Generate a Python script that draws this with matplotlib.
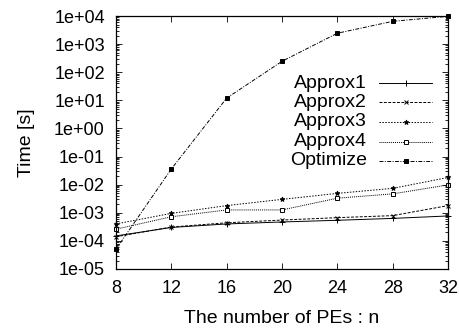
import matplotlib
matplotlib.use('Agg')
import matplotlib.pyplot as plt
from matplotlib.ticker import FixedLocator, FuncFormatter, LogLocator, NullFormatter
from matplotlib.lines import Line2D

plt.rcParams['font.family'] = ['Liberation Sans', 'DejaVu Sans']

# Data
pes = [8, 12, 16, 20, 24, 28, 32]
approx1 = [1.5e-4, 3.0e-4, 4.0e-4, 4.7e-4, 5.4e-4, 6.3e-4, 7.7e-4]
approx2 = [1.4e-4, 3.1e-4, 4.4e-4, 5.5e-4, 6.7e-4, 7.9e-4, 1.8e-3]
approx3 = [4.0e-4, 9.5e-4, 1.8e-3, 3.0e-3, 4.9e-3, 7.4e-3, 1.8e-2]
approx4 = [2.6e-4, 7.2e-4, 1.26e-3, 1.26e-3, 3.3e-3, 4.7e-3, 9.8e-3]
optimize = [5e-5, 3.6e-2, 12, 245, 2450, 6500, 9800]

names = ['Approx1', 'Approx2', 'Approx3', 'Approx4', 'Optimize']
series = [approx1, approx2, approx3, approx4, optimize]
styles = [
    dict(linestyle='-', marker='+', markersize=4, mfc='black'),
    dict(linestyle=(0, (3, 1.5)), marker='x', markersize=3, mfc='black'),
    dict(linestyle=(0, (1.5, 1.5)), marker='*', markersize=3.5, mfc='black'),
    dict(linestyle=(0, (1, 1)), marker='s', markersize=3, mfc='white'),
    dict(linestyle=(0, (4, 1.5, 1, 1.5)), marker='s', markersize=3.3, mfc='black'),
]

fig = plt.figure(figsize=(4.6, 3.28), dpi=100)
ax = fig.add_axes([0.252, 0.180, 0.722, 0.771])

for vals, st in zip(series, styles):
    ax.plot(pes, vals, color='black', linewidth=0.7, mec='black', mew=0.7,
            clip_on=False, **st)

ax.set_yscale('log')
ax.set_xlim(8, 32)
ax.set_ylim(1e-5, 1e4)
ax.xaxis.set_major_locator(FixedLocator(pes))
ax.yaxis.set_major_locator(FixedLocator([10.0 ** k for k in range(-5, 5)]))
ax.yaxis.set_major_formatter(FuncFormatter(lambda v, p: f'{v:.0e}'))
ax.yaxis.set_minor_locator(LogLocator(base=10, subs=range(2, 10), numticks=20))
ax.yaxis.set_minor_formatter(NullFormatter())
ax.tick_params(which='both', direction='in', top=True, right=True, labelsize=13,
               width=0.6, pad=8)
ax.tick_params(which='major', length=4)
ax.tick_params(which='minor', length=2)
for s in ax.spines.values():
    s.set_linewidth(0.9)

ax.set_xlabel('The number of PEs : n', fontsize=14, labelpad=9)
ax.set_ylabel('Time [s]', fontsize=14, labelpad=14)

# gnuplot-style key: right-aligned text, sample line to its right
key_y = [0.734, 0.660, 0.582, 0.503, 0.428]
for name, st, ky in zip(names, styles, key_y):
    ax.text(0.756, ky, name, transform=ax.transAxes, ha='right', va='center', fontsize=14)
    ax.add_line(Line2D([0.792, 0.952], [ky, ky], transform=ax.transAxes, color='black',
                       linewidth=0.7, linestyle=st['linestyle'], clip_on=False))
    ax.add_line(Line2D([0.872], [ky], transform=ax.transAxes, color='black',
                       marker=st['marker'], markersize=st['markersize'],
                       mfc=st['mfc'], mec='black', mew=0.7, linestyle='none',
                       clip_on=False))

fig.savefig('out.png', dpi=100)
